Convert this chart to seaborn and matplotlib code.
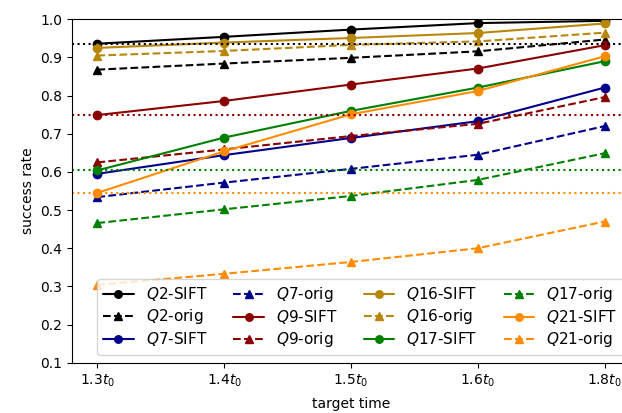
import matplotlib
matplotlib.use("Agg")
import matplotlib.pyplot as plt
import seaborn as sns
import numpy as np

sns.set_style("ticks", {"axes.edgecolor": "black", "xtick.color": "black",
                        "ytick.color": "black", "text.color": "black",
                        "axes.labelcolor": "black"})
plt.rcParams["font.family"] = ["DejaVu Sans"]

times = ["$1.3t_0$", "$1.4t_0$", "$1.5t_0$", "$1.6t_0$", "$1.8t_0$"]

queries = ["Q2", "Q7", "Q9", "Q16", "Q17", "Q21"]
colors = ["black", "darkblue", "darkred", "darkgoldenrod", "green", "darkorange"]

q2_sift = [0.936, 0.954, 0.973, 0.990, 0.996]
q2_orig = [0.868, 0.884, 0.899, 0.916, 0.947]
q7_sift = [0.595, 0.644, 0.689, 0.733, 0.821]
q7_orig = [0.534, 0.572, 0.608, 0.645, 0.720]
q9_sift = [0.749, 0.786, 0.829, 0.871, 0.932]
q9_orig = [0.625, 0.659, 0.694, 0.726, 0.796]
q16_sift = [0.925, 0.939, 0.951, 0.964, 0.989]
q16_orig = [0.905, 0.917, 0.933, 0.942, 0.965]
q17_sift = [0.604, 0.690, 0.760, 0.821, 0.890]
q17_orig = [0.466, 0.502, 0.537, 0.579, 0.649]
q21_sift = [0.545, 0.654, 0.751, 0.812, 0.903]
q21_orig = [0.304, 0.333, 0.364, 0.400, 0.470]

sift = [q2_sift, q7_sift, q9_sift, q16_sift, q17_sift, q21_sift]
orig = [q2_orig, q7_orig, q9_orig, q16_orig, q17_orig, q21_orig]

# dotted reference levels
base_values = [0.935, 0.75, 0.604, 0.545]
base_colors = ["black", "darkred", "green", "darkorange"]

fig = plt.figure(figsize=(6.22, 4.13), dpi=100)
ax = fig.add_axes([0.1158, 0.1218, 0.897, 0.8315])

xpos = np.arange(len(times))
for q, c, s, o in zip(queries, colors, sift, orig):
    sns.lineplot(x=xpos, y=s, color=c, marker="o", markersize=6,
                 markeredgecolor=c, markeredgewidth=1, linewidth=1.5,
                 label=f"${q}$-SIFT", ax=ax)
    sns.lineplot(x=xpos, y=o, color=c, marker="^", markersize=6,
                 markeredgecolor=c, markeredgewidth=1, linewidth=1.5,
                 linestyle="--", label=f"${q}$-orig", ax=ax)

for v, c in zip(base_values, base_colors):
    ax.axhline(v, color=c, linestyle=":", linewidth=1.5)

ax.set_xlim(-0.2, 4.2)
ax.set_ylim(0.1, 1.0)
ax.set_xticks(xpos)
ax.set_xticklabels(times)
ax.set_yticks(np.arange(0.1, 1.01, 0.1))
ax.set_xlabel("target time", labelpad=6)
ax.set_ylabel("success rate")
ax.tick_params(direction="out", length=3.5, width=0.8, labelsize=10)
for sp in ax.spines.values():
    sp.set_linewidth(0.8)

ax.legend(ncol=4, loc="lower left", bbox_to_anchor=(97 / 622, 58 / 413),
          bbox_transform=fig.transFigure, borderaxespad=0, fontsize=11,
          labelspacing=0.25, columnspacing=1.7, markerscale=0.9)

fig.savefig("out.png", dpi=100)
